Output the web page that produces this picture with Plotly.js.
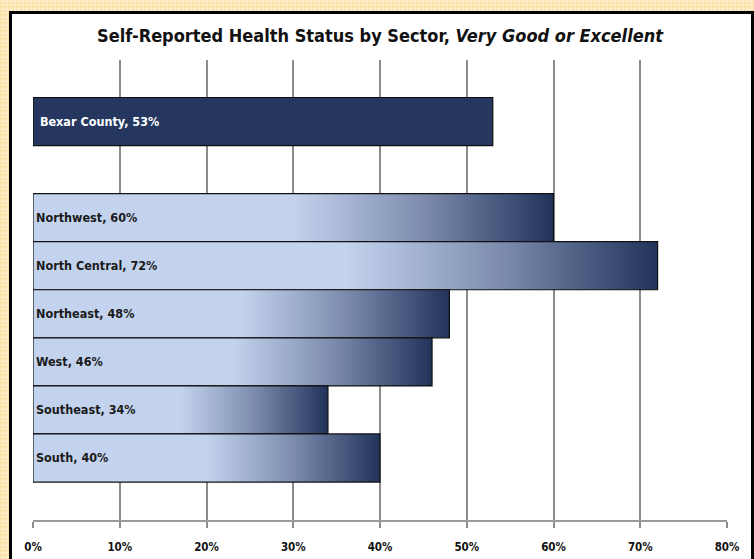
<!DOCTYPE html>
<html>
<head>
<meta charset="utf-8">
<script src="https://cdn.plot.ly/plotly-3.0.1.min.js"></script>
<style>
  html, body { margin: 0; padding: 0; width: 754px; height: 559px; overflow: hidden; }
  body {
    background-color: #fdf0cf;
    background-image:
      linear-gradient(90deg, rgba(250,222,160,0.55) 50%, transparent 50%),
      linear-gradient(0deg, rgba(250,222,160,0.55) 50%, transparent 50%);
    background-size: 4px 4px;
  }
  #frame {
    position: absolute; left: 9px; top: 11px;
    width: 739px; height: 548px;
    border-left: 3px solid #000; border-top: 3px solid #000; border-right: 3px solid #000;
    background: #fff;
  }
  #chart { width: 739px; height: 545px; }
</style>
</head>
<body>
<svg width="0" height="0" style="position:absolute">
  <defs>
    <linearGradient id="sectorGrad" x1="0" y1="0" x2="1" y2="0">
      <stop offset="0" stop-color="#c3d3ee"/>
      <stop offset="0.5" stop-color="#c3d3ee"/>
      <stop offset="0.75" stop-color="#7d8cae"/>
      <stop offset="1" stop-color="#22335b"/>
    </linearGradient>
  </defs>
</svg>
<div id="frame"><div id="chart"></div></div>
<script>
// ---- data ----
const countyName = "Bexar County";
const countyValue = 53;
const sectors = ["Northwest", "North Central", "Northeast", "West", "Southeast", "South"];
const sectorValues = [60, 72, 48, 46, 34, 40];
const spacer = " ";
const xTickVals = [0, 10, 20, 30, 40, 50, 60, 70, 80];
const xTickText = ["0%", "10%", "20%", "30%", "40%", "50%", "60%", "70%", "80%"];
const titleText = "<b>Self-Reported Health Status by Sector, <i>Very Good or Excellent</i></b>";

// category order bottom -> top
const catOrder = sectors.slice().reverse().concat([spacer, countyName]);

const labelFont = "'Liberation Sans Narrow', 'DejaVu Sans Condensed', Arial, sans-serif";

const countyTrace = {
  type: "bar", orientation: "h",
  x: [countyValue, null], y: [countyName, spacer],
  text: ["\u00a0" + countyName + ", " + countyValue + "%", ""],
  textposition: "inside", insidetextanchor: "start", textangle: 0,
  constraintext: "none",
  textfont: { family: labelFont, size: 12.5, color: "#ffffff", weight: "bold" },
  marker: { color: "#25375f", line: { color: "#0d0d0d", width: 1.2 } },
  hoverinfo: "skip", showlegend: false
};

const sectorTrace = {
  type: "bar", orientation: "h",
  x: sectorValues, y: sectors,
  text: sectors.map((s, i) => s + ", " + sectorValues[i] + "%"),
  textposition: "inside", insidetextanchor: "start", textangle: 0,
  constraintext: "none",
  textfont: { family: labelFont, size: 12.5, color: "#1a1a1a", weight: "bold" },
  marker: { color: "#8f9fc0", line: { color: "#111111", width: 1.2 } },
  hoverinfo: "skip", showlegend: false
};

const layout = {
  width: 739, height: 545,
  margin: { l: 21, r: 24, t: 46, b: 39 },
  paper_bgcolor: "#ffffff", plot_bgcolor: "#ffffff",
  bargap: 0, barmode: "overlay",
  title: {
    text: titleText,
    font: { family: labelFont, size: 18, color: "#111111" },
    xref: "paper", x: 0.5, xanchor: "center",
    yref: "container", y: 0.961, yanchor: "middle"
  },
  xaxis: {
    range: [0, 80], tickvals: xTickVals, ticktext: xTickText,
    showgrid: true, gridcolor: "#8c8c8c", gridwidth: 2,
    zeroline: false,
    showline: true, linecolor: "#9a9a9a", linewidth: 1.5,
    ticks: "outside", ticklen: 6, tickcolor: "#8c8c8c", tickwidth: 2,
    ticklabelstandoff: 10,
    tickfont: { family: labelFont, size: 11.5, color: "#111111", weight: "bold" },
    fixedrange: true
  },
  yaxis: {
    type: "category", categoryorder: "array", categoryarray: catOrder,
    range: [-1.29, 8.28],
    showgrid: false, zeroline: false, showline: false, showticklabels: false, ticks: "",
    fixedrange: true
  }
};

function applyGradient(gd) {
  const traces = gd.querySelectorAll(".barlayer .trace");
  if (traces.length > 1) {
    traces[1].querySelectorAll(".point path").forEach(p => {
      p.style.fill = "url(#sectorGrad)";
      p.style.fillOpacity = "1";
    });
  }
}

const gd = document.getElementById("chart");
Plotly.newPlot(gd, [countyTrace, sectorTrace], layout, { displayModeBar: false, staticPlot: true })
  .then(() => { applyGradient(gd); gd.on("plotly_afterplot", () => applyGradient(gd)); });
</script>
</body>
</html>
